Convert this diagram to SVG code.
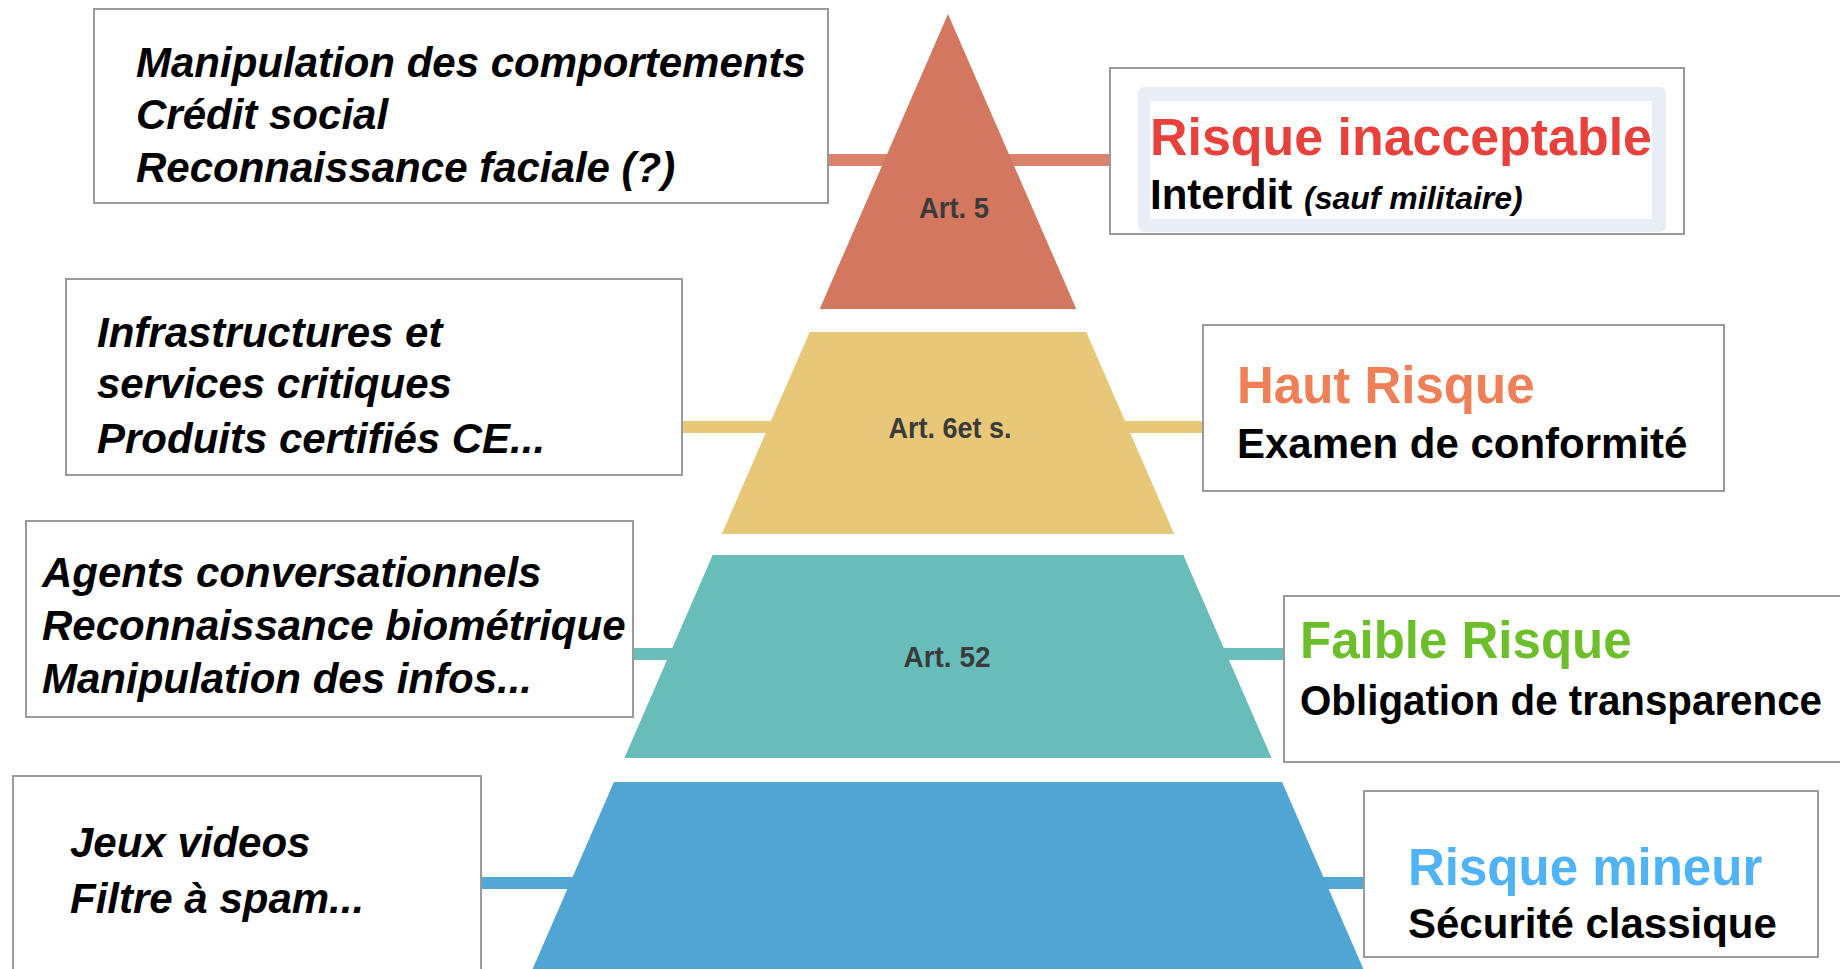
<svg xmlns="http://www.w3.org/2000/svg" width="1840" height="969" viewBox="0 0 1840 969">
<style>
.box{fill:#fff;stroke:#9a9a9a;stroke-width:2}
.lt{font-family:"Liberation Sans",Arial,sans-serif;font-weight:bold;font-style:italic;font-size:42px;fill:#000}
.tt{font-family:"Liberation Sans",Arial,sans-serif;font-weight:bold;font-size:51px}
.st{font-family:"Liberation Sans",Arial,sans-serif;font-weight:bold;font-size:42px;fill:#000}
.art{font-family:"Liberation Sans",Arial,sans-serif;font-weight:bold;font-size:29px;fill:#3a3a3a;text-anchor:middle}
.c{stroke-width:12;fill:none}
</style>
<rect width="1840" height="969" fill="#fff"/>
<g id="connectors">
<line class="c" x1="828" y1="160" x2="1110" y2="160" stroke="#D9836B"/>
<line class="c" x1="682" y1="427" x2="1203" y2="427" stroke="#E6C878"/>
<line class="c" x1="634" y1="654" x2="1284" y2="654" stroke="#6BBDBA"/>
<line class="c" x1="481" y1="883" x2="1364" y2="883" stroke="#52A6D3"/>
</g>
<g id="pyramid">
<g id="level-art5">
<polygon points="948,14 1076.3,309 819.7,309" fill="#D4775F"/>
<text class="art" x="954" y="218" textLength="70" lengthAdjust="spacingAndGlyphs">Art. 5</text>
</g>
<g id="level-art6">
<polygon points="809.7,332 1086.3,332 1174.2,534 721.8,534" fill="#E6C878"/>
<text class="art" x="950" y="438" textLength="123" lengthAdjust="spacingAndGlyphs">Art. 6et s.</text>
</g>
<g id="level-art52">
<polygon points="712.7,555 1183.3,555 1271.6,758 624.4,758" fill="#68BDBA"/>
<text class="art" x="947" y="667" textLength="87" lengthAdjust="spacingAndGlyphs">Art. 52</text>
</g>
<g id="level-minor">
<polygon points="613.9,782 1282.1,782 1363.4,969 532.6,969" fill="#50A5D3"/>
</g>
</g>
<g id="box-examples-unacceptable">
<rect class="box" x="94" y="9" width="734" height="194"/>
<text class="lt" x="136" y="77">Manipulation des comportements</text>
<text class="lt" x="136" y="129">Crédit social</text>
<text class="lt" x="136" y="182">Reconnaissance faciale (?)</text>
</g>
<g id="box-unacceptable">
<rect class="box" x="1110" y="68" width="574" height="166"/>
<rect x="1138" y="87" width="528" height="145" rx="6" fill="#E8EEF6"/>
<rect x="1150" y="101" width="502" height="118" fill="#fff"/>
<text class="tt" x="1150" y="155" fill="#E8403A" textLength="502" lengthAdjust="spacingAndGlyphs">Risque inacceptable</text>
<text class="st" x="1150" y="209">Interdit <tspan font-style="italic" font-size="32">(sauf militaire)</tspan></text>
</g>
<g id="box-examples-high">
<rect class="box" x="66" y="279" width="616" height="196"/>
<text class="lt" x="97" y="347">Infrastructures et</text>
<text class="lt" x="97" y="398">services critiques</text>
<text class="lt" x="97" y="453">Produits certifiés CE...</text>
</g>
<g id="box-high">
<rect class="box" x="1203" y="325" width="521" height="166"/>
<text class="tt" x="1237" y="403" fill="#EE7F56">Haut Risque</text>
<text class="st" x="1237" y="458">Examen de conformité</text>
</g>
<g id="box-examples-low">
<rect class="box" x="26" y="521" width="607" height="196"/>
<text class="lt" x="42" y="587">Agents conversationnels</text>
<text class="lt" x="42" y="640">Reconnaissance biométrique</text>
<text class="lt" x="42" y="693">Manipulation des infos...</text>
</g>
<g id="box-low">
<rect class="box" x="1284" y="596" width="580" height="166"/>
<text class="tt" x="1300" y="658" fill="#6CBF2A">Faible Risque</text>
<text class="st" x="1300" y="715" textLength="522" lengthAdjust="spacingAndGlyphs">Obligation de transparence</text>
</g>
<g id="box-examples-minor">
<rect class="box" x="13" y="776" width="468" height="210"/>
<text class="lt" x="70" y="857">Jeux videos</text>
<text class="lt" x="70" y="913">Filtre à spam...</text>
</g>
<g id="box-minor">
<rect class="box" x="1364" y="791" width="454" height="166"/>
<text class="tt" x="1408" y="885" fill="#4FB3F6">Risque mineur</text>
<text class="st" x="1408" y="938">Sécurité classique</text>
</g>
</svg>
